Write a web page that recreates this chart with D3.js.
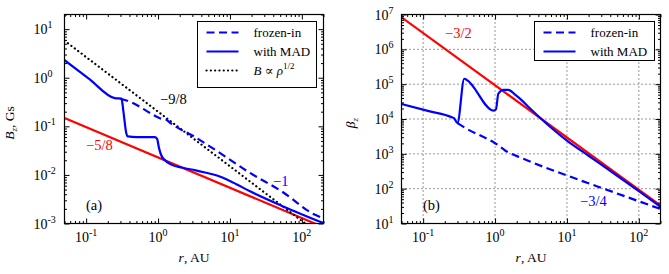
<!DOCTYPE html>
<html>
<head>
<meta charset="utf-8">
<script src="https://cdn.jsdelivr.net/npm/d3@7"></script>
<style>
    body { margin: 0; background: #fff; }
    text { font-family: "Liberation Serif", "DejaVu Serif", serif; }
</style>
</head>
<body>
<svg id="svg" width="669" height="274"></svg>
<script>
//radius range shared by both panels (AU)
const rDomain = [0.05, 200];

//panel (a): B_z in Gs, [r, value]
const bzFit = [[0.05, 0.149], [200, 0.00084]];          //-5/8 power law
const bzRho = [[0.05, 5.8], [200, 0.00052]];            //B ~ rho^1/2
const bzWithMAD = [[0.05, 2.3], [0.11, 0.95], [0.25, 0.38], [0.31, 0.37], [0.33, 0.2], [0.36, 0.075], [0.38, 0.062],
    [0.5, 0.06], [0.9, 0.06], [0.97, 0.055], [1.03, 0.036], [1.1, 0.026], [1.25, 0.02], [1.5, 0.0165],
    [2.2, 0.014], [3.35, 0.0124], [4.5, 0.0112], [6.6, 0.0097], [11, 0.007], [19, 0.0046], [55, 0.00225], [200, 0.00102]];
const bzFrozen = [[0.3, 0.37], [0.43, 0.31], [0.69, 0.208], [1.06, 0.147], [1.18, 0.14], [1.3, 0.137],
    [1.46, 0.119], [3.1, 0.063], [6.6, 0.031], [19, 0.011], [56, 0.0043], [147, 0.00155], [200, 0.00128]];

//panel (b): beta_z, [r, value]
const betaFit = [[0.05, 8.3e6], [200, 32.8]];           //-3/2 power law
const betaWithMAD = [[0.05, 2.7e4], [0.12, 1.68e4], [0.25, 1.13e4], [0.27, 1.05e4], [0.3, 7.6e3], [0.373, 1.43e5], [0.4, 1.35e5],
    [0.95, 1.75e4], [1.03, 1.9e4], [1.11, 5.3e4], [1.31, 6.9e4], [1.53, 6.9e4], [1.9, 5.0e4], [2.3, 3.6e4],
    [3, 2.1e4], [4, 1.2e4], [10, 2400], [20, 880], [50, 235], [100, 85], [200, 30]];
const betaFrozen = [[0.3, 7.6e3], [0.4, 5.3e3], [0.95, 2.16e3], [1.05, 1.9e3], [1.38, 1245], [2.48, 720],
    [10, 239], [44.7, 79], [200, 26]];

const BLUE = "#0000ff";
const RED = "#ff0000";

var svg = d3.select("#svg");

function isDecade(d) {
    var l = Math.log10(d);
    return Math.abs(l - Math.round(l)) < 1e-9;
}

//"10" with a superscript exponent
function powText(sel, d) {
    sel.append("tspan").text("10");
    sel.append("tspan").attr("dy", -6).attr("font-size", 10).text(Math.round(Math.log10(d)));
}

function drawPanel(p) {
    var x = d3.scaleLog().domain(rDomain).range([p.left, p.right]);
    var y = d3.scaleLog().domain(p.yDomain).range([p.bottom, p.top]);
    var g = svg.append("g");

    g.append("clipPath").attr("id", "clip" + p.name)
            .append("rect")
            .attr("x", p.left).attr("y", p.top)
            .attr("width", p.right - p.left).attr("height", p.bottom - p.top);

    var xMajor = x.ticks().filter(isDecade);
    var xMinor = x.ticks().filter(d => !isDecade(d));
    var yMajor = y.ticks().filter(isDecade);
    var yMinor = y.ticks().filter(d => !isDecade(d));

    //dotted grid (panel b only)
    if (p.grid) {
        g.selectAll(".gx").data(xMajor).enter().append("line")
                .attr("x1", d => x(d)).attr("x2", d => x(d))
                .attr("y1", p.top).attr("y2", p.bottom)
                .attr("stroke", "#333").attr("stroke-dasharray", "1,3");
        g.selectAll(".gy").data(yMajor.filter(d => d > p.yDomain[0] && d < p.yDomain[1])).enter().append("line")
                .attr("y1", d => y(d)).attr("y2", d => y(d))
                .attr("x1", p.left).attr("x2", p.right)
                .attr("stroke", "#333").attr("stroke-dasharray", "1,3");
    }

    //lines
    var line = d3.line()
            .x(d => x(d[0]))
            .y(d => y(d[1]))
            .curve(d3.curveMonotoneX);

    var lines = g.append("g").attr("clip-path", "url(#clip" + p.name + ")");
    p.series.forEach(function (s) {
        lines.append("path")
                .attr("d", line(s.data))
                .attr("fill", "none")
                .attr("stroke", s.color)
                .attr("stroke-width", s.width)
                .attr("stroke-dasharray", s.dash)
                .attr("stroke-linecap", s.cap || "butt");
    });

    //inward ticks on all four sides
    function ticks(axis, scale, values, size, tr) {
        g.append("g")
                .attr("transform", tr)
                .call(axis(scale).tickValues(values).tickSize(-size).tickFormat(""))
                .call(a => a.select(".domain").remove());
    }
    ticks(d3.axisBottom, x, xMajor, 5, "translate(0," + p.bottom + ")");
    ticks(d3.axisBottom, x, xMinor, 2.5, "translate(0," + p.bottom + ")");
    ticks(d3.axisTop, x, xMajor, 5, "translate(0," + p.top + ")");
    ticks(d3.axisTop, x, xMinor, 2.5, "translate(0," + p.top + ")");
    ticks(d3.axisLeft, y, yMajor, 5, "translate(" + p.left + ",0)");
    ticks(d3.axisLeft, y, yMinor, 2.5, "translate(" + p.left + ",0)");
    ticks(d3.axisRight, y, yMajor, 5, "translate(" + p.right + ",0)");
    ticks(d3.axisRight, y, yMinor, 2.5, "translate(" + p.right + ",0)");

    g.append("rect")
            .attr("x", p.left).attr("y", p.top)
            .attr("width", p.right - p.left).attr("height", p.bottom - p.top)
            .attr("fill", "none").attr("stroke", "black").attr("stroke-width", 1.2);

    //tick labels
    xMajor.forEach(function (d) {
        g.append("text")
                .attr("x", x(d)).attr("y", 242)
                .attr("text-anchor", "middle")
                .attr("font-size", 14)
                .call(powText, d);
    });
    yMajor.forEach(function (d) {
        g.append("text")
                .attr("x", p.left - p.yTickOff).attr("y", y(d) + 5)
                .attr("font-size", 14)
                .call(powText, d);
    });

    //axis titles
    var xt = g.append("text")
            .attr("x", (p.left + p.right) / 2).attr("y", 262)
            .attr("text-anchor", "middle")
            .attr("font-size", 13.5);
    xt.append("tspan").attr("font-style", "italic").text("r");
    xt.append("tspan").text(", AU");

    var yt = g.append("text")
            .attr("transform", "translate(" + (p.left - p.yTitleOff) + "," + ((p.top + p.bottom) / 2 + 4) + ") rotate(-90)")
            .attr("text-anchor", "middle")
            .attr("font-size", 13.5);
    yt.append("tspan").attr("font-style", "italic").text(p.ySymbol);
    yt.append("tspan").attr("font-style", "italic").attr("font-size", 9).attr("dy", 3).text("z");
    yt.append("tspan").attr("dy", -3).text(p.yUnit);

    //legend
    var lg = p.legend;
    g.append("rect")
            .attr("x", lg.x).attr("y", lg.y)
            .attr("width", lg.w).attr("height", lg.h)
            .attr("fill", "white").attr("stroke", "black").attr("stroke-width", 1);
    lg.items.forEach(function (it, i) {
        var ry = lg.y + 11 + i * 19;
        g.append("line")
                .attr("x1", lg.x + 9).attr("x2", lg.x + 41)
                .attr("y1", ry).attr("y2", ry)
                .attr("stroke", it.color).attr("stroke-width", it.width)
                .attr("stroke-dasharray", it.dash)
                .attr("stroke-linecap", it.cap || "butt");
        var t = g.append("text")
                .attr("x", lg.x + 56).attr("y", ry + 4.5)
                .attr("font-size", 13);
        it.label(t);
    });

    //slope notes
    p.notes.forEach(function (n) {
        g.append("text")
                .attr("x", n.x).attr("y", n.y)
                .attr("font-size", 14.5)
                .attr("fill", n.color)
                .text(n.text);
    });
}

var dashStyle = "8,4.5";
var dotStyle = "0.1,4.2";

drawPanel({
    name: "a",
    left: 64.5, right: 323.5, top: 14.5, bottom: 223.5,
    yDomain: [1e-3, 20],
    yTickOff: 31, yTitleOff: 51,
    ySymbol: "B", yUnit: ", Gs",
    grid: false,
    series: [
        {data: bzFit, color: RED, width: 2.2},
        {data: bzRho, color: "black", width: 2.2, dash: dotStyle, cap: "round"},
        {data: bzFrozen, color: BLUE, width: 2.2, dash: dashStyle},
        {data: bzWithMAD, color: BLUE, width: 2.2}
    ],
    legend: {
        x: 197.5, y: 21.5, w: 119, h: 66,
        items: [
            {color: BLUE, width: 2.2, dash: dashStyle, label: t => t.text("frozen-in")},
            {color: BLUE, width: 2.2, label: t => t.text("with MAD")},
            {color: "black", width: 2.2, dash: dotStyle, cap: "round", label: function (t) {
                t.append("tspan").attr("font-style", "italic").text("B");
                t.append("tspan").text(" \u221D ");
                t.append("tspan").attr("font-style", "italic").text("\u03C1");
                t.append("tspan").attr("font-size", 9).attr("dy", -6).text("1/2");
            }}
        ]
    },
    notes: [
        {x: 160, y: 104, text: "\u22129/8", color: "black"},
        {x: 86, y: 150, text: "\u22125/8", color: RED},
        {x: 273, y: 186, text: "\u22121", color: BLUE},
        {x: 86, y: 210, text: "(a)", color: "black"}
    ]
});

drawPanel({
    name: "b",
    left: 401.5, right: 660.5, top: 14.5, bottom: 223.5,
    yDomain: [10, 1e7],
    yTickOff: 27, yTitleOff: 47,
    ySymbol: "\u03B2", yUnit: "",
    grid: true,
    series: [
        {data: betaFit, color: RED, width: 2.2},
        {data: betaFrozen, color: BLUE, width: 2.2, dash: dashStyle},
        {data: betaWithMAD, color: BLUE, width: 2.2}
    ],
    legend: {
        x: 534.5, y: 21.5, w: 120, h: 39,
        items: [
            {color: BLUE, width: 2.2, dash: dashStyle, label: t => t.text("frozen-in")},
            {color: BLUE, width: 2.2, label: t => t.text("with MAD")}
        ]
    },
    notes: [
        {x: 445, y: 38, text: "\u22123/2", color: RED},
        {x: 580, y: 206, text: "\u22123/4", color: BLUE},
        {x: 423, y: 210, text: "(b)", color: "black"}
    ]
});
</script>
</body>
</html>
